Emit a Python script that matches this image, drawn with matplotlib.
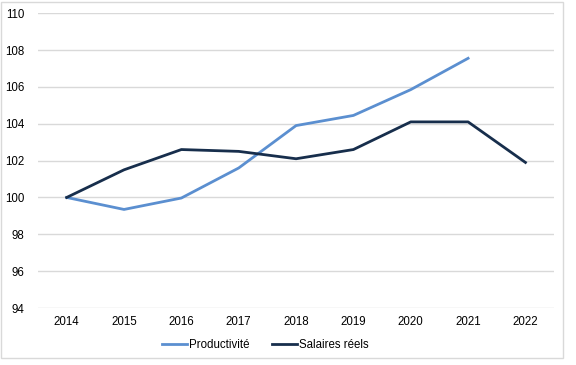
import matplotlib.pyplot as plt
from matplotlib.patches import Rectangle

plt.rcParams['font.family'] = ['Liberation Sans', 'DejaVu Sans']

years = ['2014', '2015', '2016', '2017', '2018', '2019', '2020', '2021', '2022']
productivite = [100.0, 99.35, 99.97, 101.6, 103.9, 104.45, 105.85, 107.55]
salaires = [100.0, 101.5, 102.6, 102.5, 102.1, 102.6, 104.1, 104.1, 101.9]
yticks = [94, 96, 98, 100, 102, 104, 106, 108, 110]

fig = plt.figure(figsize=(5.76, 3.65), dpi=100)
ax = fig.add_axes([0.066, 0.156, 0.896, 0.808])

ax.plot(range(len(productivite)), productivite, color='#5b8fd0', lw=2.0,
        label='Productivité', solid_joinstyle='round')
ax.plot(range(len(salaires)), salaires, color='#172e4c', lw=2.0,
        label='Salaires réels', solid_joinstyle='round')

ax.set_xlim(-0.5, len(years) - 0.5)
ax.set_ylim(94, 110)
ax.set_yticks(yticks)
ax.set_xticks(range(len(years)))
ax.set_xticklabels(years)
ax.grid(axis='y', color='#d9d9d9', lw=1.0)
ax.set_axisbelow(True)
for s in ax.spines.values():
    s.set_visible(False)
ax.tick_params(length=0, labelsize=8.3, colors='#000000', pad=6)
ax.tick_params(axis='y', pad=10)

leg = ax.legend(loc='upper center', bbox_to_anchor=(0.44, -0.07), ncol=2,
                frameon=False, fontsize=8.3, handlelength=2.2,
                handletextpad=0.1, columnspacing=2.0)

fig.patches.append(Rectangle((0.002, 0.02), 0.976, 0.975, transform=fig.transFigure,
                             fill=False, edgecolor='#d9d9d9', lw=1.0))

fig.savefig('out.png', dpi=100)
